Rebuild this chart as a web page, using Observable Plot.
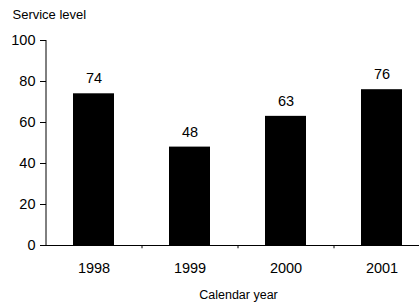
<!DOCTYPE html>
<html>
<head>
<meta charset="utf-8">
<script src="https://cdn.jsdelivr.net/npm/d3@7"></script>
<script src="https://cdn.jsdelivr.net/npm/@observablehq/plot@0.6"></script>
<style>
  html, body { margin: 0; padding: 0; background: #fff; overflow: hidden; }
  svg { display: block; }
</style>
</head>
<body>
<div id="chart"></div>
<script>
const years = ["1998", "1999", "2000", "2001"];
const levels = [74, 48, 63, 76];
const yTicks = [0, 20, 40, 60, 80, 100];
const yTitle = "Service level";
const xTitle = "Calendar year";

const data = years.map((y, i) => ({year: y, value: levels[i]}));

const chart = Plot.plot({
  width: 419,
  height: 304,
  marginLeft: 46,
  marginRight: 0,
  marginTop: 40,
  marginBottom: 59,
  style: {fontFamily: "'Liberation Sans', Arial, sans-serif", background: "#fff", color: "#000"},
  x: {domain: years, range: [46, 430], paddingInner: 0.57, paddingOuter: 0.285, label: null},
  y: {domain: [0, 100], label: null},
  marks: [
    Plot.barY(data, {x: "year", y: "value", fill: "#000"}),
    Plot.ruleY([0], {stroke: "#000", strokeWidth: 1}),
    Plot.ruleX([years[0]], {x: d => d, dx: -48, y1: 0, y2: 100, stroke: "#000"}),
    Plot.ruleX(years.slice(1), {x: d => d, dx: -48, y1: 0, y2: -1.6, stroke: "#000"}),
    Plot.axisY({ticks: yTicks, tickSize: 6, tickPadding: 5, fontSize: 14.5, label: null}),
    Plot.axisX({tickSize: 0, tickPadding: 17, fontSize: 14.5, label: null}),
    Plot.text(data, {x: "year", y: "value", text: d => String(d.value), dy: -15, fontSize: 14.5, fill: "#000"}),
    Plot.text([yTitle], {frameAnchor: "top-left", dx: -34, dy: -31, textAnchor: "start", fontSize: 13, fill: "#000"}),
    Plot.text([xTitle], {frameAnchor: "bottom", dx: 5.5, dy: 53, fontSize: 12.5, fill: "#000"})
  ]
});
document.getElementById("chart").appendChild(chart);
</script>
</body>
</html>
